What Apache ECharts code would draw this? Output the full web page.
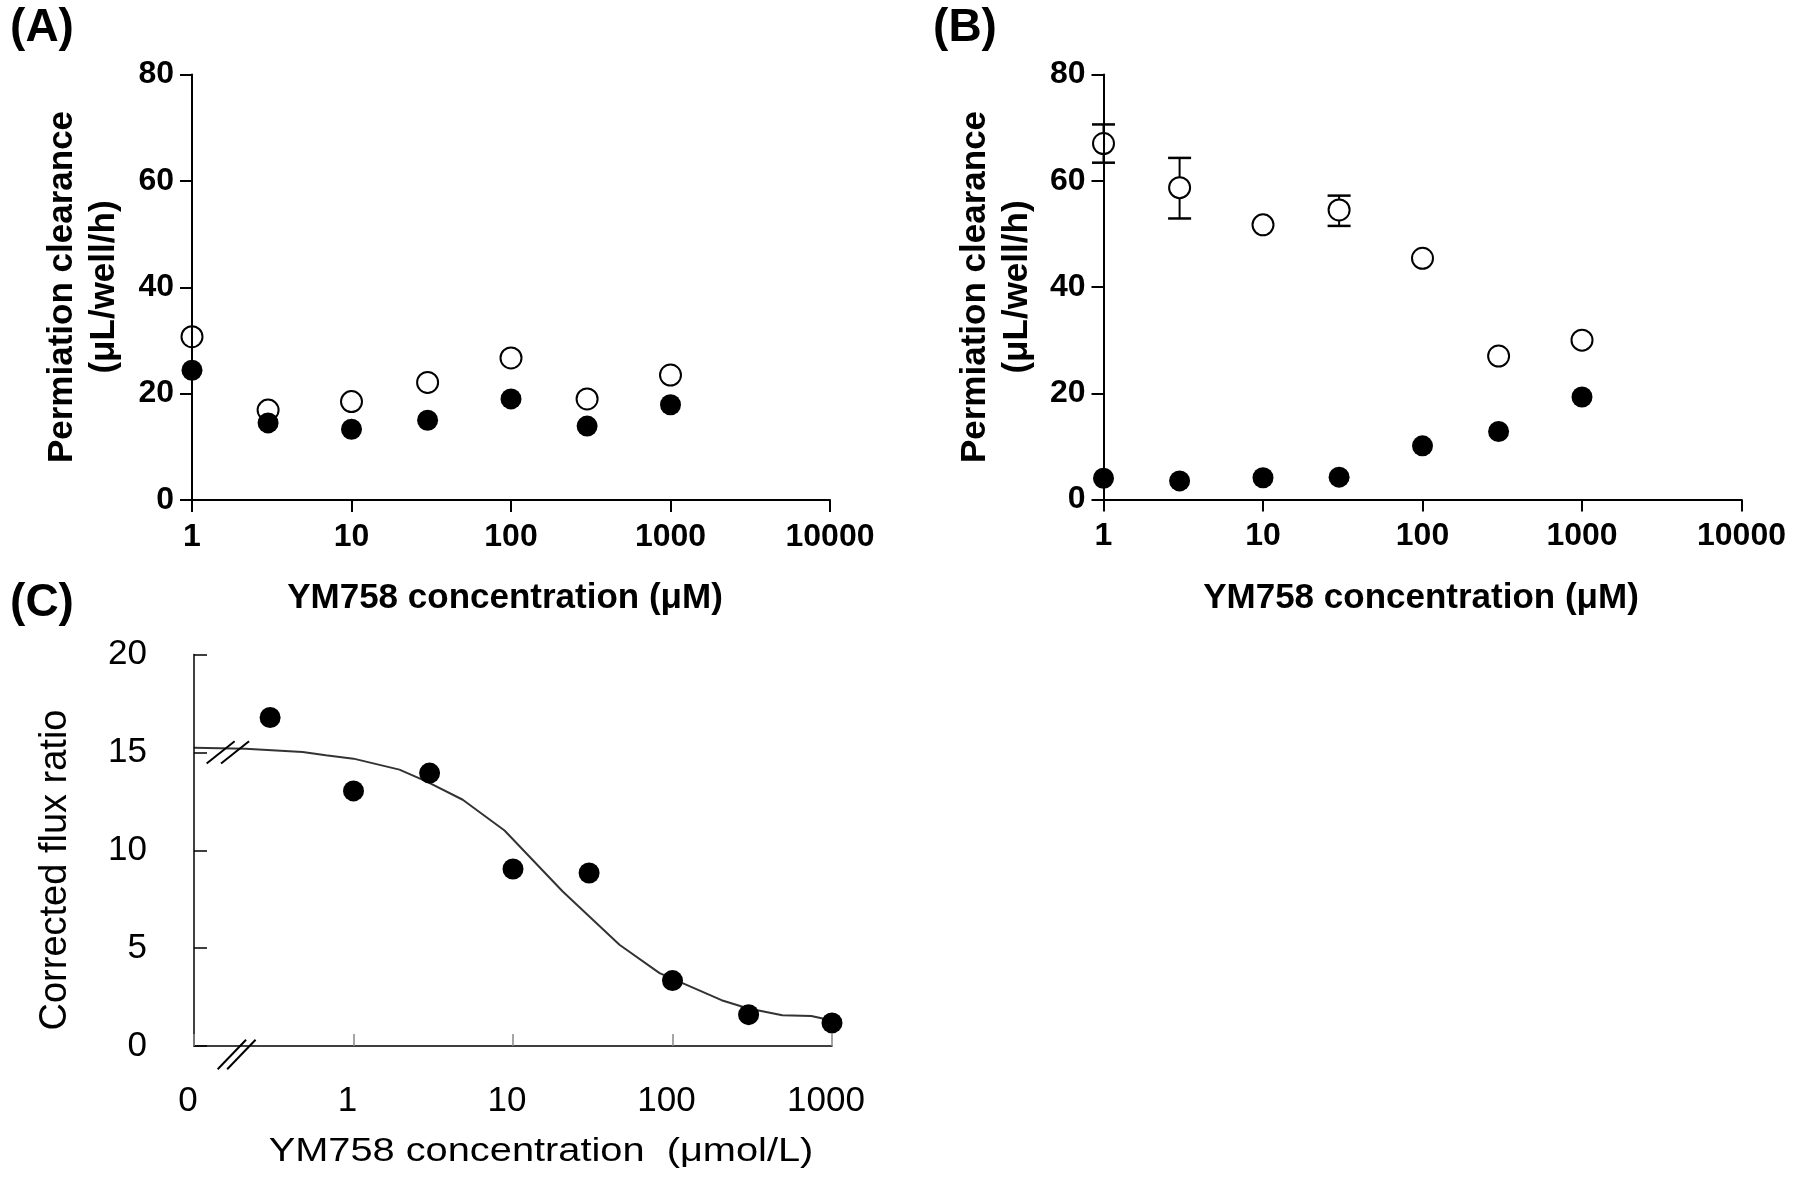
<!DOCTYPE html>
<html>
<head>
<meta charset="utf-8">
<script src="https://cdn.jsdelivr.net/npm/echarts@6/dist/echarts.min.js"></script>
<style>
html, body { margin: 0; padding: 0; background: #fff; }
#chart { width: 1813px; height: 1179px; }
</style>
</head>
<body>
<div id="chart"></div>
<script>
// YM758 concentrations (µM) for panels A and B
const concAB = [1, 3, 10, 30, 100, 300, 1000];
const yTicksAB = [0, 20, 40, 60, 80];

// Panel A: permeation clearance (µL/well/h)
const openA   = [30.7, 16.9, 18.5, 22.1, 26.7, 19.0, 23.5];
const filledA = [24.4, 14.5, 13.3, 15.0, 19.0, 13.9, 17.9];

// Panel B: permeation clearance (µL/well/h)
const openB   = [67.0, 58.7, 51.7, 54.5, 45.4, 27.0, 30.0];
const filledB = [4.0, 3.5, 4.1, 4.2, 10.1, 12.8, 19.3];
// Panel B error bars (open symbols)
const errConcB = [1, 3, 30];
const errLowB  = [63.4, 52.9, 51.5];
const errHighB = [70.6, 64.3, 57.2];

// Panel C: corrected flux ratio; the control (0 µmol/L) sits just past the axis break
const concC  = [0.3, 1, 3, 10, 30, 100, 300, 1000];
const ratioC = [16.78, 13.03, 13.94, 9.04, 8.84, 3.34, 1.60, 1.18];
// fitted inhibition curve
const fitConcC  = [0.1, 0.21, 0.48, 0.67, 1, 1.94, 2.86, 4.84, 8.85, 20.5, 46.5, 83, 203, 295, 488, 741, 1000];
const fitRatioC = [15.23, 15.18, 15.02, 14.85, 14.68, 14.12, 13.52, 12.58, 11.01, 7.89, 5.17, 3.72, 2.34, 1.93, 1.57, 1.53, 1.30];
const xTickLabelsC = ['0', '1', '10', '100', '1000'];

const SANS = 'Liberation Sans, Arial, sans-serif';

const chart = echarts.init(document.getElementById('chart'), null, { renderer: 'canvas' });

function pairs(xs, ys) { return xs.map((x, i) => [x, ys[i]]); }

function boldLogX(gridIndex) {
  return {
    gridIndex, type: 'log', logBase: 10, min: 1, max: 10000, z: 10,
    axisLine: { onZero: false, lineStyle: { color: '#000', width: 2 } },
    axisTick: { length: 12, lineStyle: { color: '#000', width: 2 } },
    minorTick: { show: false },
    axisLabel: {
      fontFamily: SANS, fontWeight: 'bold', fontSize: 32, color: '#000', margin: 21,
      formatter: v => String(Math.round(v))
    },
    splitLine: { show: false }
  };
}
function boldY(gridIndex) {
  return {
    gridIndex, type: 'value', min: yTicksAB[0], max: yTicksAB[yTicksAB.length - 1], interval: 20, z: 10,
    axisLine: { show: true, onZero: false, lineStyle: { color: '#000', width: 2 } },
    axisTick: { show: true, length: 12, lineStyle: { color: '#000', width: 2 } },
    axisLabel: { fontFamily: SANS, fontWeight: 'bold', fontSize: 32, color: '#000', margin: 18 },
    splitLine: { show: false }
  };
}

const openStyle = { color: '#fff', borderColor: '#000', borderWidth: 2, opacity: 1 };
const filledStyle = { color: '#000', opacity: 1 };

const option = {
  animation: false,
  backgroundColor: '#fff',
  grid: [
    { left: 192, top: 74.5, width: 638, height: 425.5, outerBoundsMode: 'none' },
    { left: 1103.5, top: 74.5, width: 638, height: 425, outerBoundsMode: 'none' },
    { left: 194, top: 654.5, width: 638, height: 391.5, outerBoundsMode: 'none' }
  ],
  xAxis: [
    boldLogX(0),
    boldLogX(1),
    {
      gridIndex: 2, type: 'log', logBase: 10, min: 0.1, max: 1000, z: 10,
      axisLine: { onZero: false, lineStyle: { color: '#000', width: 1.5 } },
      axisTick: { inside: true, length: 12, lineStyle: { color: '#888', width: 1.5 } },
      minorTick: { show: false },
      axisLabel: {
        fontFamily: SANS, fontSize: 35, color: '#000', margin: 38, padding: [0, 12, 0, 0],
        formatter: (v, i) => xTickLabelsC[i]
      },
      splitLine: { show: false }
    }
  ],
  yAxis: [
    boldY(0),
    boldY(1),
    {
      gridIndex: 2, type: 'value', min: 0, max: 20, interval: 5, z: 10,
      axisLine: { show: true, onZero: false, lineStyle: { color: '#000', width: 1.5 } },
      axisTick: { show: true, inside: true, length: 13, lineStyle: { color: '#000', width: 1.5 } },
      axisLabel: { fontFamily: SANS, fontSize: 35, color: '#000', margin: 47 },
      splitLine: { show: false }
    }
  ],
  series: [
    // Panel A
    { type: 'scatter', xAxisIndex: 0, yAxisIndex: 0, z: 3, symbol: 'circle', symbolSize: 21,
      itemStyle: openStyle, data: pairs(concAB, openA) },
    { type: 'scatter', xAxisIndex: 0, yAxisIndex: 0, z: 4, symbol: 'circle', symbolSize: 21,
      itemStyle: filledStyle, data: pairs(concAB, filledA) },
    // Panel B error bars
    {
      type: 'custom', xAxisIndex: 1, yAxisIndex: 1, z: 2,
      data: errConcB.map((c, i) => [c, errLowB[i], errHighB[i]]),
      encode: { x: 0, y: [1, 2] },
      renderItem: (params, api) => {
        const x = api.value(0);
        const lo = api.coord([x, api.value(1)]);
        const hi = api.coord([x, api.value(2)]);
        const w = 11.5;
        return {
          type: 'group',
          children: [
            { type: 'line', shape: { x1: lo[0], y1: lo[1], x2: hi[0], y2: hi[1] }, style: { stroke: '#000', lineWidth: 2 } },
            { type: 'line', shape: { x1: hi[0] - w, y1: hi[1], x2: hi[0] + w, y2: hi[1] }, style: { stroke: '#000', lineWidth: 2.5 } },
            { type: 'line', shape: { x1: lo[0] - w, y1: lo[1], x2: lo[0] + w, y2: lo[1] }, style: { stroke: '#000', lineWidth: 2.5 } }
          ]
        };
      }
    },
    { type: 'scatter', xAxisIndex: 1, yAxisIndex: 1, z: 3, symbol: 'circle', symbolSize: 21,
      itemStyle: openStyle, data: pairs(concAB, openB) },
    { type: 'scatter', xAxisIndex: 1, yAxisIndex: 1, z: 4, symbol: 'circle', symbolSize: 21,
      itemStyle: filledStyle, data: pairs(concAB, filledB) },
    // Panel C
    { type: 'line', xAxisIndex: 2, yAxisIndex: 2, z: 2, showSymbol: false, smooth: false,
      lineStyle: { color: '#333', width: 2 }, data: pairs(fitConcC, fitRatioC) },
    { type: 'scatter', xAxisIndex: 2, yAxisIndex: 2, z: 3, symbol: 'circle', symbolSize: 21,
      itemStyle: filledStyle, data: pairs(concC, ratioC) }
  ]
};

chart.setOption(option);

// Titles, panel letters and axis-break marks
function toPx(idx, x, y) {
  return chart.convertToPixel({ xAxisIndex: idx, yAxisIndex: idx }, [x, y]);
}
function slashPair(cx, cy, dx, dy, gap, idBase) {
  return [-gap / 2, gap / 2].map((o, k) => ({
    type: 'line', id: idBase + k, z: 20,
    shape: { x1: cx + o - dx, y1: cy + dy, x2: cx + o + dx, y2: cy - dy },
    style: { stroke: '#000', lineWidth: 2 }
  }));
}
function label(id, text, x, y, size, weight, rotate, extra) {
  return Object.assign({
    type: 'text', id, x, y, rotation: rotate ? Math.PI / 2 : 0, z: 20,
    style: {
      text, fill: '#000', fontFamily: SANS, fontSize: size, fontWeight: weight,
      align: 'center', verticalAlign: 'middle', lineHeight: Math.round(size * 1.2)
    }
  }, extra || {});
}

const curveBreak = toPx(2, 0.163, 15);
const axisBreak = toPx(2, 0.185, 0);

chart.setOption({
  graphic: [
    label('tA', '(A)', 42, 28, 46, 'bold', false),
    label('tB', '(B)', 965, 28, 46, 'bold', false),
    label('tC', '(C)', 42, 603, 46, 'bold', false),
    label('yA', 'Permiation clearance\n(μL/well/h)', 83, 287, 35, 'bold', true),
    label('yB', 'Permiation clearance\n(μL/well/h)', 996, 287, 35, 'bold', true),
    label('xA', 'YM758 concentration (μM)', 505, 598, 35, 'bold', false),
    label('xB', 'YM758 concentration (μM)', 1421, 598, 35, 'bold', false),
    label('yC', 'Corrected flux ratio', 56, 870, 38, 'normal', true),
    label('xC', 'YM758 concentration  (μmol/L)', 541, 1152, 34, 'normal', false, { scaleX: 1.17 })
  ]
    .concat(slashPair(curveBreak[0], curveBreak[1], 14, 11.2, 14.4, 'cb'))
    .concat(slashPair(axisBreak[0], axisBreak[1] + 8.5, 14.2, 14.7, 9.5, 'ab'))
});
</script>
</body>
</html>
